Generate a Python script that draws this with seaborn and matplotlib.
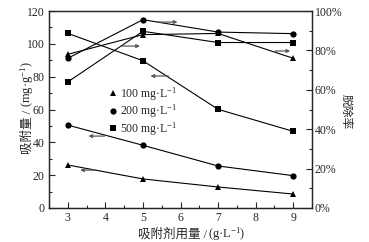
import matplotlib
matplotlib.use("Agg")
import matplotlib.pyplot as plt
import seaborn as sns
import pandas as pd
from matplotlib.lines import Line2D
from matplotlib.ticker import MultipleLocator, PercentFormatter

# ---- data ----
dose = [3, 5, 7, 9]
conc_labels = ["100 mg·L$^{-1}$", "200 mg·L$^{-1}$", "500 mg·L$^{-1}$"]
markers = ["^", "o", "s"]
q_100 = [26.2, 17.7, 12.8, 8.5]
q_200 = [50.5, 38.2, 25.6, 19.7]
q_500 = [106.4, 89.7, 60.1, 46.7]
r_100 = [78.0, 88.0, 88.6, 76.0]
r_200 = [76.0, 95.6, 89.3, 88.5]
r_500 = [64.0, 89.7, 84.0, 84.0]
x_ticks = [3, 4, 5, 6, 7, 8, 9]
left_ticks = [0, 20, 40, 60, 80, 100, 120]
right_ticks = [0, 20, 40, 60, 80, 100]
xlabel_parts = ["吸附剂用量 /", "(g·L$^{-1}$)"]
ylabel_parts = ["吸附量 /", "(mg·g$^{-1}$)"]
y2label = "脱除率"

sns.set_style("ticks")
fam = ["Liberation Serif", "Noto Sans CJK SC", "DejaVu Serif"]
plt.rcParams["font.family"] = fam
plt.rcParams["axes.unicode_minus"] = False
plt.rcParams["mathtext.fontset"] = "custom"
plt.rcParams["mathtext.rm"] = "Liberation Serif"
plt.rcParams["mathtext.it"] = "Liberation Serif:italic"
plt.rcParams["mathtext.default"] = "rm"

W, H = 369, 242
fig = plt.figure(figsize=(W/100, H/100), dpi=100)
ax = fig.add_axes([49/W, 34/H, 263/W, 197/H])
ax2 = ax.twinx()

FS = 8.5
line_kw = dict(color="black", linewidth=0.8, markersize=4.5, markeredgewidth=0,
               markerfacecolor="black")

q_all = [q_100, q_200, q_500]
r_all = [r_100, r_200, r_500]
for lab, m, q, r in zip(conc_labels, markers, q_all, r_all):
    dfq = pd.DataFrame({"dose": dose, "val": q})
    dfr = pd.DataFrame({"dose": dose, "val": r})
    sns.lineplot(data=dfq, x="dose", y="val", ax=ax, marker=m, **line_kw)
    sns.lineplot(data=dfr, x="dose", y="val", ax=ax2, marker=m, **line_kw)

ax.set_xlim(2.5, 9.5)
ax.set_ylim(0, 120)
ax2.set_ylim(0, 100)
ax.set_xticks(x_ticks)
ax.set_yticks(left_ticks)
ax2.set_yticks(right_ticks)
ax.xaxis.set_minor_locator(MultipleLocator(0.5))
ax.yaxis.set_minor_locator(MultipleLocator(10))
ax2.yaxis.set_minor_locator(MultipleLocator(10))
ax2.yaxis.set_major_formatter(PercentFormatter(decimals=0))
ax.set_xlabel("")
ax.set_ylabel("")
ax2.set_ylabel("")

for a in (ax, ax2):
    a.tick_params(which="major", direction="in", length=4, width=0.8, labelsize=FS, pad=3)
    a.tick_params(which="minor", direction="in", length=2.5, width=0.8)
    for s in a.spines.values():
        s.set_linewidth(0.9)
ax2.tick_params(axis="y", which="both", direction="in", pad=2)
ax.tick_params(axis="x", which="both", top=False)

# arrows (right -> removal axis, left -> adsorption axis)
akw = dict(arrowstyle="-|>", color="0.35", lw=0.9, mutation_scale=5, shrinkA=0, shrinkB=0)
ax2.annotate("", xy=(5.92, 94.4), xytext=(5.38, 94.4), arrowprops=akw)
ax2.annotate("", xy=(4.92, 82.2), xytext=(4.40, 82.2), arrowprops=akw)
ax2.annotate("", xy=(8.92, 79.7), xytext=(8.52, 79.7), arrowprops=akw)
ax.annotate("", xy=(5.2, 80.4), xytext=(5.68, 80.4), arrowprops=akw)
ax.annotate("", xy=(3.55, 43.8), xytext=(3.98, 43.8), arrowprops=akw)
ax.annotate("", xy=(3.33, 23.1), xytext=(3.76, 23.1), arrowprops=akw)

handles = [Line2D([], [], color="black", marker=m, linestyle="none", markersize=4.5,
                  markeredgewidth=0) for m in markers]
ax2.legend(handles, conc_labels, loc="upper left", bbox_to_anchor=(0.224, 0.624),
           frameon=False, fontsize=FS, handlelength=0.8, handletextpad=0.2,
           labelspacing=0.0, borderpad=0, borderaxespad=0)

# ---- axis labels assembled from pieces (CJK part + math part) ----
fig.canvas.draw()
renderer = fig.canvas.get_renderer()


def px_to_fig(x, y):
    return x / W, 1 - y / H


def hlabel(parts, cx, base_y, fs, gap=1.0):
    texts = [fig.text(0, 0, p, fontsize=fs, ha="left", va="baseline") for p in parts]
    widths = [t.get_window_extent(renderer).width for t in texts]
    x = cx - (sum(widths) + gap * (len(parts) - 1)) / 2
    for t, w in zip(texts, widths):
        t.set_position(px_to_fig(x, base_y))
        x += w + gap


def vlabel(parts, base_x, cy, fs, gap=3.0):
    texts = [fig.text(0, 0, p, fontsize=fs, ha="left", va="baseline",
                      rotation=90, rotation_mode="anchor") for p in parts]
    heights = [t.get_window_extent(renderer).height for t in texts]
    y = cy + (sum(heights) + gap * (len(parts) - 1)) / 2  # pixel coords from top
    for t, h in zip(texts, heights):
        t.set_position(px_to_fig(base_x, y))
        y -= h + gap


hlabel(xlabel_parts, 192, 238, 9)
vlabel(ylabel_parts, 31, 108, 9)
fig.text(340 / W, 1 - 112 / H, y2label, fontsize=8.5, rotation=270,
         ha="left", va="center")

fig.savefig("out.png", dpi=100)
